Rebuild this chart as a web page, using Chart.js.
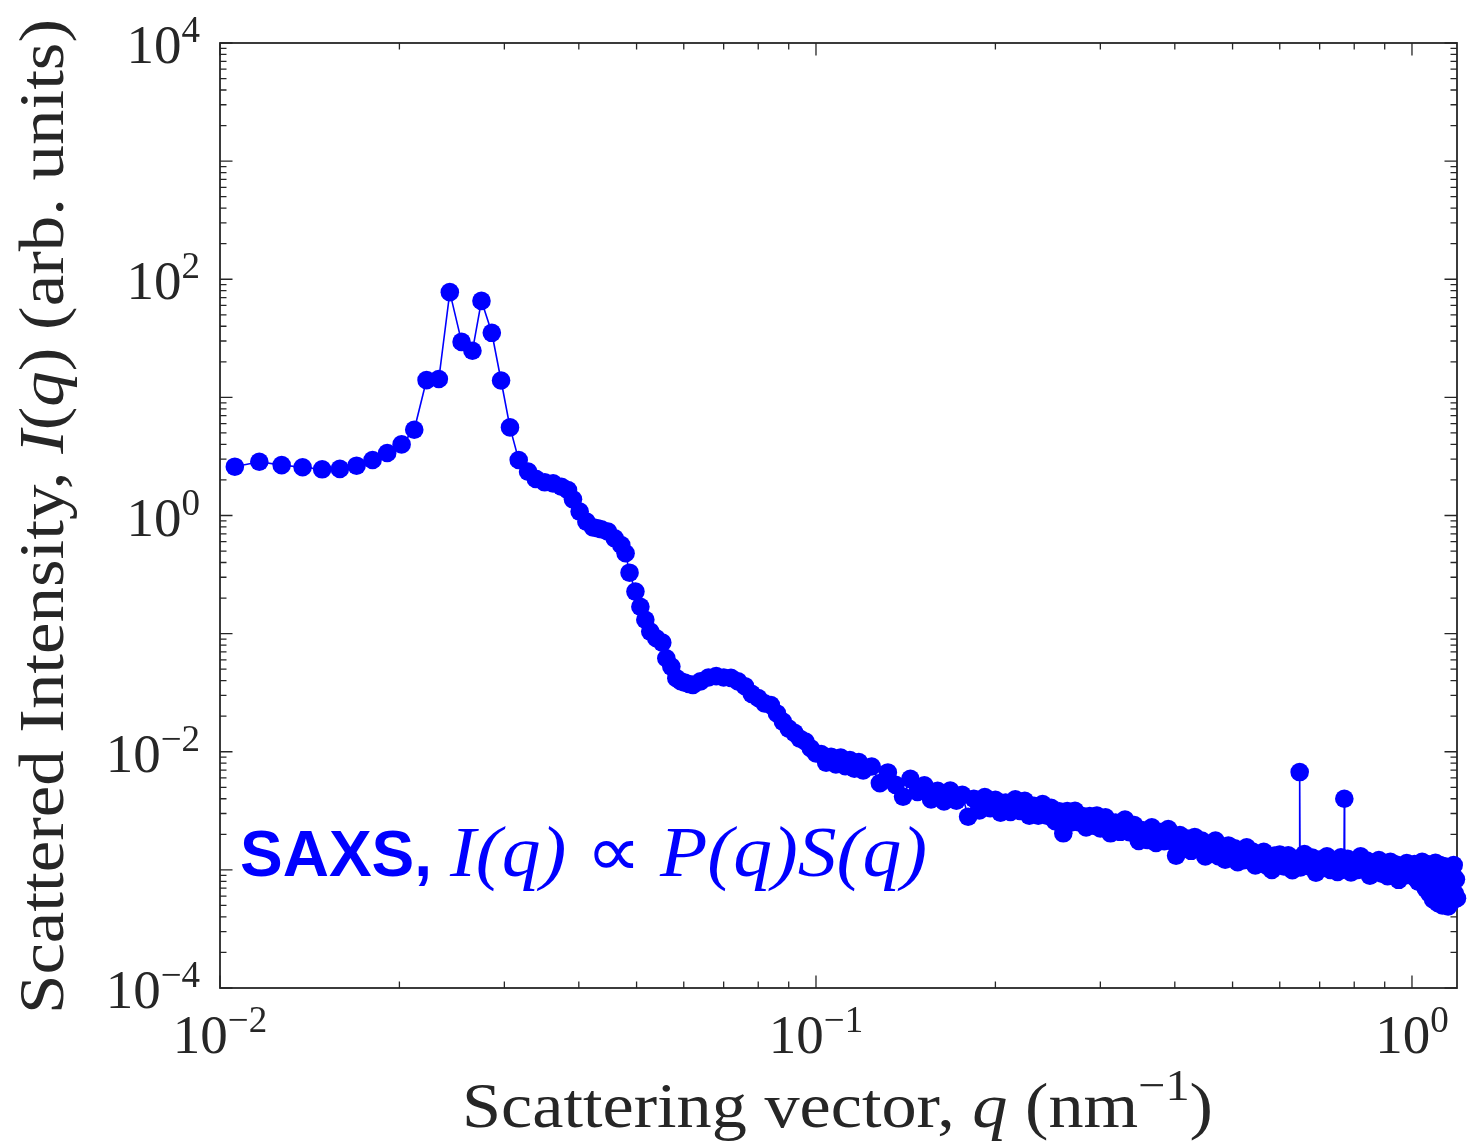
<!DOCTYPE html>
<html>
<head>
<meta charset="utf-8">
<title>SAXS intensity</title>
<script src="https://cdn.jsdelivr.net/npm/chart.js@4.4.1/dist/chart.umd.min.js"></script>
<style>
  html, body { margin: 0; padding: 0; background: #ffffff; }
  #wrap { position: relative; width: 1473px; height: 1146px; }
  canvas { display: block; }
</style>
</head>
<body>
<div id="wrap"><canvas id="saxs" width="1473" height="1146"></canvas></div>
<script>
// Scattering vector q (nm^-1)
const qValues = [
  0.01059, 0.01164, 0.01269, 0.01376, 0.01484, 0.01589, 0.01695, 0.01803, 0.01908, 0.02017,
  0.02118, 0.02221, 0.02329, 0.02430, 0.02543, 0.02652, 0.02746, 0.02858, 0.02962, 0.03066,
  0.03171, 0.03288, 0.03388, 0.03507, 0.03622, 0.03740, 0.03836, 0.03911, 0.04013, 0.04119,
  0.04225, 0.04300, 0.04364, 0.04477, 0.04595, 0.04713, 0.04792, 0.04866, 0.04978, 0.05074,
  0.05172, 0.05272, 0.05396, 0.05522, 0.05609, 0.05719, 0.05831, 0.05930, 0.06020, 0.06120,
  0.06216,
  0.064, 0.066, 0.068, 0.070, 0.072, 0.074, 0.076, 0.078, 0.080, 0.082,
  0.084, 0.086, 0.088, 0.090, 0.092, 0.094, 0.096, 0.098, 0.100, 0.102,
  0.104, 0.106, 0.108, 0.110, 0.112, 0.114, 0.116, 0.118, 0.120,
  0.124, 0.128, 0.132, 0.136, 0.140, 0.144, 0.148, 0.152, 0.156, 0.160,
  0.164, 0.168, 0.172, 0.176, 0.180, 0.184, 0.188, 0.192, 0.196, 0.200,
  0.204, 0.208, 0.212, 0.216, 0.220, 0.224, 0.228, 0.232, 0.236, 0.240,
  0.244, 0.248, 0.252, 0.256, 0.260, 0.264, 0.268, 0.272, 0.276, 0.280,
  0.284, 0.288, 0.292, 0.296, 0.300,
  0.306, 0.312, 0.318, 0.324, 0.330, 0.336, 0.342, 0.348, 0.354, 0.360,
  0.366, 0.372, 0.378, 0.384, 0.390, 0.396, 0.402, 0.408, 0.414, 0.420,
  0.426, 0.432, 0.438, 0.444, 0.450, 0.456, 0.462, 0.468, 0.474, 0.480,
  0.486, 0.492, 0.498, 0.504, 0.510, 0.516, 0.522, 0.528, 0.534, 0.540,
  0.546, 0.552, 0.558, 0.564, 0.570, 0.576, 0.582, 0.588, 0.594, 0.600,
  0.61, 0.62, 0.63, 0.64, 0.647, 0.648, 0.649, 0.65, 0.66, 0.67,
  0.68, 0.69, 0.70, 0.71, 0.72, 0.73, 0.74, 0.75, 0.76, 0.769,
  0.770, 0.771, 0.78, 0.79, 0.80, 0.81, 0.82, 0.83, 0.84, 0.85,
  0.86, 0.87, 0.88, 0.89, 0.90, 0.91, 0.92, 0.93, 0.94, 0.95,
  0.96, 0.97, 0.98, 0.99, 1.00,
  1.005, 1.010, 1.015, 1.020, 1.025, 1.030, 1.035, 1.040, 1.045, 1.050,
  1.055, 1.060, 1.065, 1.070, 1.075, 1.080, 1.085, 1.090, 1.095, 1.100,
  1.105, 1.110, 1.115, 1.120, 1.125, 1.130, 1.135, 1.140, 1.145, 1.150,
  1.155, 1.160, 1.165, 1.170, 1.175, 1.180, 1.185, 1.190, 1.195
];

// Scattered intensity I(q) (arb. units), one value per q above
const intensity = [
  2.59, 2.85, 2.67, 2.56, 2.46, 2.48, 2.64, 2.95, 3.38, 4.00,
  5.32, 14.0, 14.3, 77.8, 29.5, 24.8, 65.6, 35.2, 13.9, 5.57,
  2.95, 2.35, 2.04, 1.91, 1.87, 1.75, 1.64, 1.37, 1.08, 0.887,
  0.794, 0.78, 0.764, 0.730, 0.641, 0.563, 0.479, 0.328, 0.227, 0.169,
  0.131, 0.104, 0.0914, 0.0839, 0.0619, 0.0526, 0.0420, 0.0395, 0.0385, 0.0375,
  0.0368,
  0.0394, 0.0425, 0.0437, 0.0425, 0.0422, 0.0394, 0.0359, 0.0309, 0.0285, 0.0257,
  0.0248, 0.0211, 0.0180, 0.0157, 0.01445, 0.0129, 0.0122, 0.0107, 0.00966, 0.00955,
  0.00809, 0.00908, 0.0078, 0.00891, 0.00755, 0.00851, 0.00719, 0.00817, 0.00695,
  0.0075, 0.00543, 0.00668, 0.00525, 0.00417, 0.00589, 0.00457, 0.00519, 0.00394, 0.00468,
  0.0038, 0.0047, 0.00385, 0.00432, 0.00282, 0.004, 0.00319, 0.00414, 0.00333, 0.00392,
  0.00305, 0.00372, 0.0031, 0.00395, 0.00315, 0.00384, 0.00288, 0.00349, 0.00288, 0.00361,
  0.00287, 0.00335, 0.00258, 0.00313, 0.00204, 0.00315, 0.00252, 0.00316, 0.00253, 0.00286,
  0.00229, 0.00286, 0.00237, 0.00288, 0.00224,
  0.00278, 0.00204, 0.00251, 0.0021, 0.00267, 0.00208, 0.0024, 0.00176, 0.00216, 0.00179,
  0.00229, 0.00169, 0.00209, 0.00175, 0.00222, 0.00174, 0.00132, 0.00197, 0.00154, 0.00184,
  0.00145, 0.0019, 0.00153, 0.00177, 0.0013, 0.00165, 0.00138, 0.00177, 0.0013, 0.00151,
  0.00122, 0.00161, 0.00131, 0.00152, 0.00116, 0.00144, 0.00121, 0.00155, 0.00122, 0.00143,
  0.00109, 0.00136, 0.00114, 0.00142, 0.00109, 0.00131, 0.001, 0.00132, 0.00112, 0.00135,
  0.00107, 0.00133, 0.000995, 0.00124, 0.00118, 0.00673, 0.00121, 0.00105, 0.00136, 0.00108,
  0.00127, 0.000948, 0.00122, 0.00104, 0.0013, 0.001, 0.00117, 0.000962, 0.00128, 0.00115,
  0.0040, 0.00117, 0.00124, 0.000951, 0.00119, 0.001, 0.0013, 0.00103, 0.0012, 0.000893,
  0.00115, 0.00097, 0.00121, 0.000927, 0.00108, 0.000883, 0.00117, 0.000955, 0.00111, 0.000824,
  0.00106, 0.000891, 0.00114, 0.000904, 0.00105,
  0.000955, 0.00112, 0.000851, 0.00105, 0.000794, 0.0011, 0.000891, 0.00117, 0.000759, 0.001,
  0.000692, 0.00112, 0.000832, 0.000631, 0.00107, 0.000776, 0.000562, 0.000955, 0.00115, 0.000724,
  0.000525, 0.000891, 0.0011, 0.000661, 0.000501, 0.000871, 0.00107, 0.000603, 0.000794, 0.00049,
  0.00102, 0.000708, 0.000537, 0.000912, 0.0011, 0.000631, 0.000832, 0.000575, 0.001
];

// Axis ranges and tick values
const xRange = [0.01, 1.19];
const yRange = [1e-4, 1e4];
const xMajorTicks = [0.01, 0.1, 1];
const yMajorTicks = [1e-4, 1e-3, 1e-2, 1e-1, 1, 10, 100, 1e3, 1e4];
const xLabelledTicks = [0.01, 0.1, 1];
const yLabelledTicks = [1e-4, 1e-2, 1, 100, 1e4];
const minorSteps = [2, 3, 4, 5, 6, 7, 8, 9];

// Text pieces
const xTitleRuns = [
  { t: 'Scattering vector, ', s: 'rm' },
  { t: 'q', s: 'it' },
  { t: ' (nm', s: 'rm' },
  { t: '\u22121', s: 'sup' },
  { t: ')', s: 'rm' }
];
const yTitleRuns = [
  { t: 'Scattered Intensity, ', s: 'rm' },
  { t: 'I', s: 'it' },
  { t: '(', s: 'rm' },
  { t: 'q', s: 'it' },
  { t: ') (arb. units)', s: 'rm' }
];
const noteLead = 'SAXS,';
const noteRuns = [
  { t: 'I(q)', s: 'it' },
  { t: ' \u221D ', s: 'rm' },
  { t: 'P(q)S(q)', s: 'it' }
];

const INK = '#262626';
const BLUE = '#0000ff';
const SERIF = '"Liberation Serif", "Times New Roman", serif';
const SANS = '"Liberation Sans", Arial, sans-serif';

function runFont(style, size) {
  if (style === 'it') return 'italic ' + size + 'px ' + SERIF;
  if (style === 'sup') return Math.round(size * 0.68) + 'px ' + SERIF;
  return size + 'px ' + SERIF;
}

// Draws a sequence of styled pieces on one baseline, optionally stretched to a width
function drawRuns(ctx, runs, x, y, size, targetWidth) {
  let total = 0;
  const widths = runs.map(r => {
    ctx.font = runFont(r.s, size);
    const w = ctx.measureText(r.t).width;
    total += w;
    return w;
  });
  const sx = targetWidth ? targetWidth / total : 1;
  ctx.save();
  ctx.translate(x, y);
  ctx.scale(sx, 1);
  let cx = 0;
  runs.forEach((r, i) => {
    ctx.font = runFont(r.s, size);
    const dy = r.s === 'sup' ? -size * 0.42 : 0;
    ctx.fillText(r.t, cx, dy);
    cx += widths[i];
  });
  ctx.restore();
}

function expText(v) {
  const e = Math.round(Math.log10(v));
  return e < 0 ? '\u2212' + Math.abs(e) : String(e);
}

// Power-of-ten label: "10" with a raised exponent
function drawPow10(ctx, v, x, baseline, align) {
  const base = '10';
  const ex = expText(v);
  ctx.font = '55px ' + SERIF;
  const wb = ctx.measureText(base).width;
  ctx.font = '37px ' + SERIF;
  const we = ctx.measureText(ex).width;
  const w = wb + we;
  let x0 = x;
  if (align === 'center') x0 = x - w / 2;
  if (align === 'right') x0 = x - w;
  ctx.fillStyle = INK;
  ctx.textAlign = 'left';
  ctx.textBaseline = 'alphabetic';
  ctx.font = '55px ' + SERIF;
  ctx.fillText(base, x0, baseline);
  ctx.font = '37px ' + SERIF;
  ctx.fillText(ex, x0 + wb, baseline - 21);
}

const framePlugin = {
  id: 'frame',
  beforeDatasetsDraw(chart) {
    const { ctx, chartArea: a, scales: { x, y } } = chart;
    ctx.save();
    ctx.strokeStyle = INK;
    ctx.lineWidth = 1.3;
    const MAJOR = 12.5, MINOR = 6.5;
    // x-axis ticks, bottom and top, pointing inwards
    x.ticks.forEach(t => {
      const px = x.getPixelForValue(t.value);
      ctx.beginPath();
      ctx.moveTo(px, a.bottom); ctx.lineTo(px, a.bottom - MAJOR);
      ctx.moveTo(px, a.top); ctx.lineTo(px, a.top + MAJOR);
      ctx.stroke();
      if (t.value < 1) {
        minorSteps.forEach(m => {
          const mx = x.getPixelForValue(t.value * m);
          ctx.beginPath();
          ctx.moveTo(mx, a.bottom); ctx.lineTo(mx, a.bottom - MINOR);
          ctx.moveTo(mx, a.top); ctx.lineTo(mx, a.top + MINOR);
          ctx.stroke();
        });
      }
    });
    // y-axis ticks, left and right, pointing inwards
    y.ticks.forEach(t => {
      const py = y.getPixelForValue(t.value);
      ctx.beginPath();
      ctx.moveTo(a.left, py); ctx.lineTo(a.left + MAJOR, py);
      ctx.moveTo(a.right, py); ctx.lineTo(a.right - MAJOR, py);
      ctx.stroke();
      if (t.value < yRange[1]) {
        minorSteps.forEach(m => {
          const my = y.getPixelForValue(t.value * m);
          ctx.beginPath();
          ctx.moveTo(a.left, my); ctx.lineTo(a.left + MINOR, my);
          ctx.moveTo(a.right, my); ctx.lineTo(a.right - MINOR, my);
          ctx.stroke();
        });
      }
    });
    // axes box
    ctx.lineWidth = 1.8;
    ctx.strokeRect(a.left, a.top, a.right - a.left, a.bottom - a.top);
    ctx.restore();
  },
  afterDatasetsDraw(chart) {
    const { ctx, chartArea: a, scales: { x, y } } = chart;
    ctx.save();
    // tick labels
    xLabelledTicks.forEach(v => drawPow10(ctx, v, x.getPixelForValue(v), a.bottom + 65, 'center'));
    yLabelledTicks.forEach(v => drawPow10(ctx, v, a.left - 20, y.getPixelForValue(v) + 20, 'right'));
    // axis titles
    ctx.fillStyle = INK;
    ctx.textAlign = 'left';
    ctx.textBaseline = 'alphabetic';
    drawRuns(ctx, xTitleRuns, 462, 1127, 64, 751);
    ctx.save();
    ctx.translate(63, 517);
    ctx.rotate(-Math.PI / 2);
    drawRuns(ctx, yTitleRuns, -497, 0, 64, 995);
    ctx.restore();
    // annotation
    ctx.fillStyle = BLUE;
    ctx.font = 'bold 64px ' + SANS;
    ctx.fillText(noteLead, 240, 876);
    drawRuns(ctx, noteRuns, 450, 876, 72, 477);
    ctx.restore();
  }
};

const points = qValues.map((q, i) => ({ x: q, y: intensity[i] }));

new Chart(document.getElementById('saxs'), {
  type: 'scatter',
  data: {
    datasets: [{
      data: points,
      showLine: true,
      borderColor: BLUE,
      borderWidth: 1.6,
      backgroundColor: BLUE,
      pointBackgroundColor: BLUE,
      pointRadius: 9.3,
      pointBorderWidth: 0,
      pointHoverRadius: 9.3,
      tension: 0,
      clip: false
    }]
  },
  options: {
    responsive: false,
    animation: false,
    devicePixelRatio: 1,
    layout: { padding: { left: 220, top: 43, right: 16, bottom: 158 } },
    plugins: { legend: { display: false }, tooltip: { enabled: false } },
    events: [],
    scales: {
      x: {
        type: 'logarithmic',
        min: xRange[0],
        max: xRange[1],
        grid: { display: false, drawTicks: false },
        border: { display: false },
        ticks: { display: false },
        afterBuildTicks: s => { s.ticks = xMajorTicks.map(v => ({ value: v, major: true })); }
      },
      y: {
        type: 'logarithmic',
        min: yRange[0],
        max: yRange[1],
        grid: { display: false, drawTicks: false },
        border: { display: false },
        ticks: { display: false },
        afterBuildTicks: s => { s.ticks = yMajorTicks.map(v => ({ value: v, major: true })); }
      }
    }
  },
  plugins: [framePlugin]
});
</script>
</body>
</html>
